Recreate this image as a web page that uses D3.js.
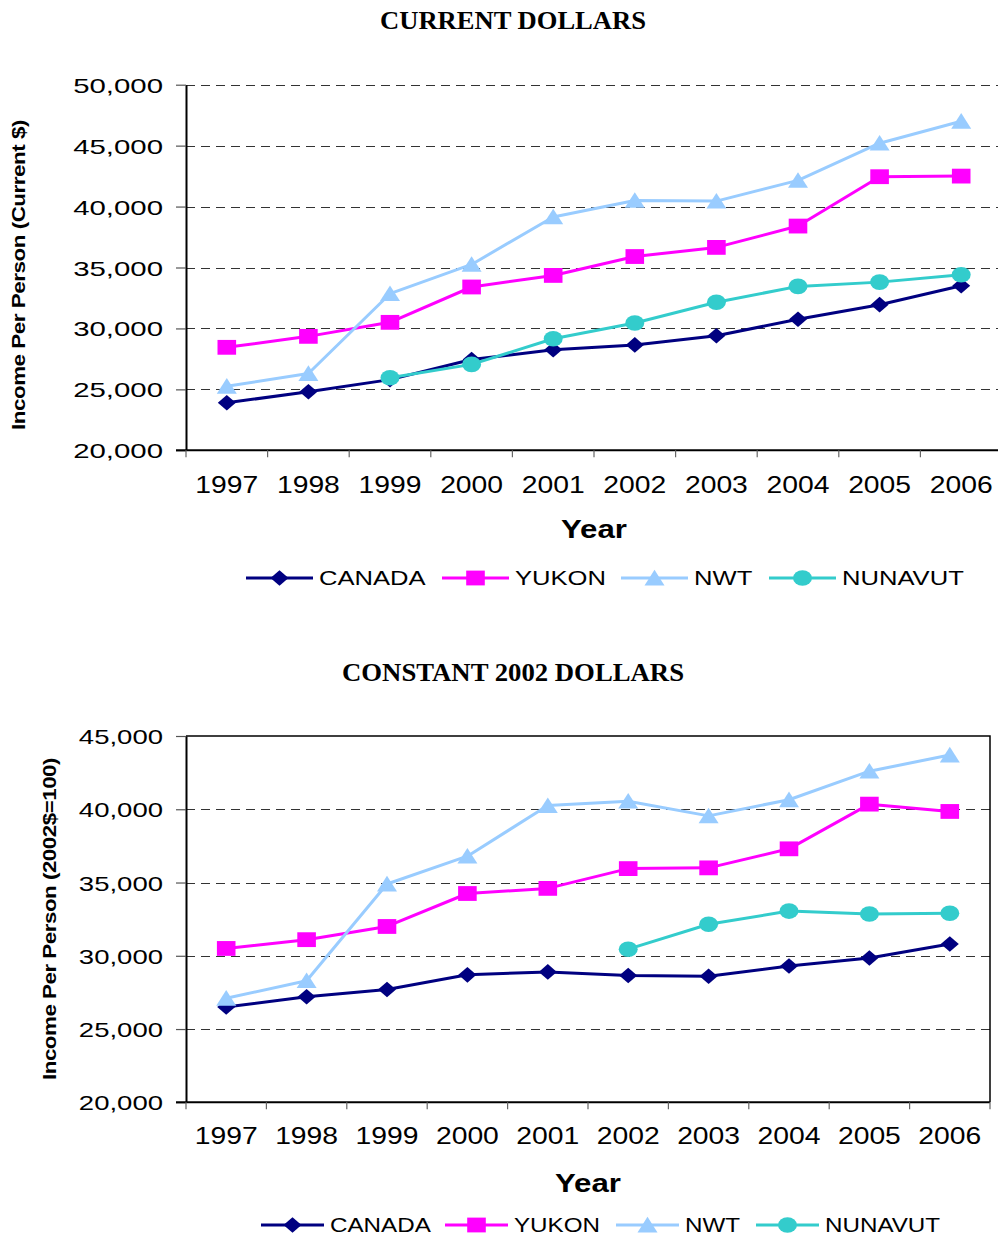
<!DOCTYPE html>
<html>
<head>
<meta charset="utf-8">
<script src="https://cdn.jsdelivr.net/npm/d3@7"></script>
<style>
  html, body { margin: 0; padding: 0; background: #fff; }
  svg { display: block; }
  text { font-family: "Liberation Sans", Arial, sans-serif; fill: #000; }
</style>
</head>
<body>
<svg id="chart" width="998" height="1239"></svg>
<script>
// ---------------- DATA ----------------
const years = ["1997","1998","1999","2000","2001","2002","2003","2004","2005","2006"];
const seriesNames = ["CANADA", "YUKON", "NWT", "NUNAVUT"];

// Chart 1: Current dollars
const currentCanada  = [23900, 24800, 25800, 27450, 28250, 28650, 29400, 30750, 31950, 33500];
const currentYukon   = [28450, 29350, 30500, 33400, 34350, 35900, 36650, 38400, 42450, 42500];
const currentNWT     = [25250, 26300, 32850, 35250, 39150, 40500, 40450, 42150, 45200, 47000];
const currentNunavut = [null, null, 25950, 27050, 29150, 30450, 32150, 33450, 33800, 34400];

// Chart 2: Constant 2002 dollars
const constCanada  = [26500, 27200, 27700, 28700, 28900, 28650, 28600, 29300, 29850, 30800];
const constYukon   = [30500, 31100, 32000, 34250, 34600, 35950, 36000, 37300, 40350, 39850];
const constNWT     = [27100, 28300, 34900, 36800, 40250, 40550, 39550, 40650, 42600, 43700];
const constNunavut = [null, null, null, null, null, 30450, 32150, 33050, 32850, 32900];

const ticksCurrent = [20000, 25000, 30000, 35000, 40000, 45000, 50000];
const ticksConst   = [20000, 25000, 30000, 35000, 40000, 45000];

// ---------------- STYLE ----------------
const colors  = ["#000080", "#FF00FF", "#99CCFF", "#33CCCC"];
const shapes  = ["diamond", "square", "triangle", "circle"];

function markerPath(shape) {
  switch (shape) {
    case "diamond":  return "M0,-7.8L9,0L0,7.8L-9,0Z";
    case "square":   return "M-9.3,-7.4H9.3V7.4H-9.3Z";
    case "triangle": return "M0,-8.2L10,7.4L-10,7.4Z";
    case "circle":   return "M-9.5,0A9.5,7.8 0 1,0 9.5,0A9.5,7.8 0 1,0 -9.5,0Z";
  }
}

const svg = d3.select("#chart");

// widen glyphs horizontally around the text anchor point
function stretch(sel, factor) {
  sel.each(function () {
    const t = d3.select(this);
    const ax = +t.attr("x") || 0, ay = +t.attr("y") || 0;
    const prev = t.attr("transform") || "";
    t.attr("transform", `${prev} translate(${ax},${ay}) scale(${factor},1) translate(${-ax},${-ay})`);
  });
}

function drawChart(cfg) {
  const g = svg.append("g");
  const x = d3.scaleBand().domain(years).range([cfg.left, cfg.right]).padding(0);
  const y = d3.scaleLinear().domain([cfg.ticks[0], cfg.ticks[cfg.ticks.length - 1]]).range([cfg.bottom, cfg.top]);

  // title
  g.append("text")
    .attr("x", 513).attr("y", cfg.titleY)
    .attr("text-anchor", "middle")
    .style("font-family", "'Liberation Serif', 'Times New Roman', serif")
    .style("font-weight", "bold").style("font-size", "26px")
    .text(cfg.title)
    .call(s => s.attr("textLength", cfg.titleLen).attr("lengthAdjust", "spacingAndGlyphs"));

  // gridlines
  g.append("g").selectAll("line")
    .data(cfg.ticks.filter(t => t !== cfg.ticks[0] && (cfg.frame ? t !== cfg.ticks[cfg.ticks.length - 1] : true)))
    .join("line")
    .attr("x1", cfg.left).attr("x2", cfg.right)
    .attr("y1", d => Math.round(y(d)) + 0.5).attr("y2", d => Math.round(y(d)) + 0.5)
    .attr("stroke", "#333").attr("stroke-width", 1.2)
    .attr("stroke-dasharray", "9,6");

  // frame (top + right) for second chart
  if (cfg.frame) {
    g.append("path")
      .attr("d", `M${cfg.left},${cfg.top}H${cfg.right}V${cfg.bottom}`)
      .attr("fill", "none").attr("stroke", "#000").attr("stroke-width", 1.5);
  }

  // y axis
  const yAxis = d3.axisLeft(y).tickValues(cfg.ticks).tickSize(10).tickSizeOuter(0)
    .tickFormat(d3.format(","));
  const ya = g.append("g").attr("transform", `translate(${cfg.left},0)`).call(yAxis);
  ya.select(".domain").attr("stroke", "#000").attr("stroke-width", 2);
  ya.selectAll(".tick line").attr("stroke", "#555").attr("stroke-width", 1.2);
  ya.selectAll(".tick text")
    .attr("x", -23).attr("dy", "0.36em")
    .style("font-family", "'Liberation Sans', Arial, sans-serif")
    .style("font-size", "21px").attr("fill", "#000")
    .call(stretch, cfg.yTickStretch);

  // x axis
  const xa = g.append("g").attr("transform", `translate(0,${cfg.bottom})`);
  xa.append("line").attr("x1", cfg.left - 10).attr("x2", cfg.right)
    .attr("y1", 0).attr("y2", 0).attr("stroke", "#000").attr("stroke-width", 2);
  const bounds = years.map(d => x(d)).concat([cfg.right]);
  xa.selectAll("line.tk").data(bounds).join("line").attr("class", "tk")
    .attr("x1", d => d).attr("x2", d => d).attr("y1", 0).attr("y2", 7)
    .attr("stroke", "#666").attr("stroke-width", 1.2);
  xa.selectAll("text.yr").data(years).join("text").attr("class", "yr")
    .attr("x", d => x(d) + x.bandwidth() / 2).attr("y", cfg.yearDy)
    .attr("text-anchor", "middle").style("font-size", "23px")
    .text(d => d)
    .call(stretch, cfg.yearStretch);

  // axis titles
  g.append("text")
    .attr("x", cfg.xTitleX).attr("y", cfg.xTitleY)
    .attr("text-anchor", "middle").style("font-size", "26px").style("font-weight", "bold")
    .text("Year").call(stretch, 1.2);
  g.append("text")
    .attr("transform", `translate(${cfg.yTitleX},${cfg.yTitleY}) rotate(-90)`)
    .attr("text-anchor", "middle").style("font-size", "19px").style("font-weight", "bold")
    .attr("letter-spacing", "-0.4px")
    .text(cfg.yTitle)
    .call(s => s.attr("textLength", cfg.yTitleLen).attr("lengthAdjust", "spacingAndGlyphs"));

  // lines + markers
  const line = d3.line().defined(d => d.v != null)
    .x(d => x(d.year) + x.bandwidth() / 2).y(d => y(d.v));
  cfg.series.forEach((vals, i) => {
    const pts = years.map((yr, j) => ({ year: yr, v: vals[j] }));
    g.append("path").datum(pts).attr("d", line)
      .attr("fill", "none").attr("stroke", colors[i]).attr("stroke-width", 3)
      .attr("stroke-linejoin", "round");
  });
  cfg.series.forEach((vals, i) => {
    const pts = years.map((yr, j) => ({ year: yr, v: vals[j] })).filter(d => d.v != null);
    g.append("g").selectAll("path").data(pts).join("path")
      .attr("transform", d => `translate(${x(d.year) + x.bandwidth() / 2},${y(d.v)})`)
      .attr("d", markerPath(shapes[i])).attr("fill", colors[i]);
  });

  // legend
  const lg = g.append("g");
  seriesNames.forEach((name, i) => {
    const x0 = cfg.legendX[i];
    const it = lg.append("g");
    it.append("line").attr("x1", x0).attr("x2", x0 + cfg.legendLine)
      .attr("y1", cfg.legendY).attr("y2", cfg.legendY)
      .attr("stroke", colors[i]).attr("stroke-width", 3);
    it.append("path")
      .attr("transform", `translate(${x0 + cfg.legendLine / 2},${cfg.legendY})`)
      .attr("d", markerPath(shapes[i])).attr("fill", colors[i]);
    it.append("text").attr("x", x0 + cfg.legendLine + 6).attr("y", cfg.legendY + 7.5)
      .style("font-size", "20px").text(name)
      .call(stretch, cfg.legendStretch);
  });
}

drawChart({
  title: "CURRENT DOLLARS", titleY: 29, titleLen: 266,
  left: 186, right: 1002, top: 84.7, bottom: 450.3,
  ticks: ticksCurrent, frame: false,
  series: [currentCanada, currentYukon, currentNWT, currentNunavut],
  yTickStretch: 1.40, yearStretch: 1.23, yearDy: 43,
  xTitleX: 594, xTitleY: 538,
  yTitle: "Income Per Person (Current $)", yTitleX: 25, yTitleY: 275, yTitleLen: 310,
  legendX: [246, 442, 621, 769], legendLine: 67, legendY: 578, legendStretch: 1.28
});

drawChart({
  title: "CONSTANT 2002 DOLLARS", titleY: 681, titleLen: 342,
  left: 186, right: 990, top: 736, bottom: 1102.3,
  ticks: ticksConst, frame: true,
  series: [constCanada, constYukon, constNWT, constNunavut],
  yTickStretch: 1.31, yearStretch: 1.23, yearDy: 42,
  xTitleX: 588, xTitleY: 1192,
  yTitle: "Income Per Person (2002$=100)", yTitleX: 56, yTitleY: 919, yTitleLen: 322,
  legendX: [261, 445, 616, 756], legendLine: 63, legendY: 1225, legendStretch: 1.21
});
</script>
</body>
</html>
